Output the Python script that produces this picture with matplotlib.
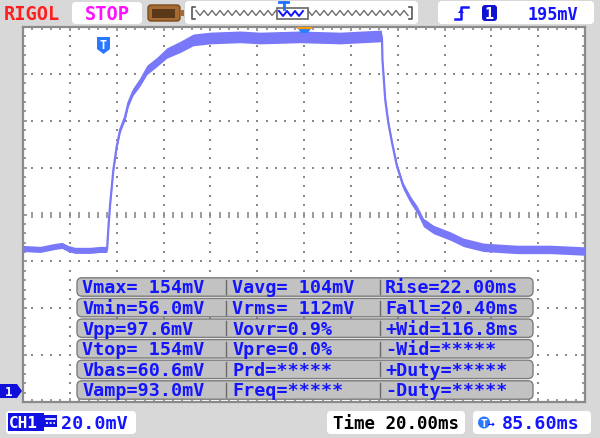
import numpy as np
import matplotlib.pyplot as plt
from matplotlib.patches import FancyBboxPatch, Rectangle, Polygon, Circle

# --- captured waveform (time relative to trigger in ms, voltage in mV) ---
t_ms = [-34.4, -27.1, -20.7, -17.7, -15.2, -12.2, -5.8, -1.5, 1.1,
        1.5, 2.1, 2.8, 4.2, 5.6, 7.1, 9.2, 10.6, 12.6, 15.6, 18.5, 22.8, 27.0,
        32.7, 38.3, 45.5, 58.3,
        66.9, 84.0, 101.1, 118.6,
        118.9, 119.1, 120.3, 121.6, 123.2, 125.3, 128.0, 131.0, 133.9, 136.6,
        140.9, 148.1, 153.7, 162.2, 176.6, 190.9, 205.6]
v_mv = [60.8, 60.4, 61.7, 62.1, 60.8, 60.0, 60.0, 60.4, 60.4,
        60.4, 70.2, 79.6, 94.5, 104.2, 111.5, 117.0, 122.9, 127.7, 131.9, 137.0,
        140.4, 144.2, 146.8, 149.8, 150.6, 151.1,
        150.6, 151.1, 150.6, 151.5,
        150.6, 141.3, 124.2, 114.5, 105.9, 95.9, 87.4, 81.7, 77.4, 71.9,
        68.9, 66.1, 63.4, 61.3, 60.4, 60.4, 59.7]
# noise envelope half width (mV)
noise_mv = [1.3, 1.3, 1.3, 1.3, 1.3, 1.3, 1.3, 1.3, 1.3,
            1.0, 1.0, 1.0, 1.0, 1.0, 1.2, 1.4, 1.5, 1.6, 1.8, 2.0, 2.0, 2.2,
            2.4, 2.5, 2.5, 2.5,
            2.5, 2.5, 2.5, 2.5,
            1.0, 1.0, 1.0, 1.0, 1.0, 1.2, 1.4, 1.5, 1.6, 1.8,
            1.8, 1.8, 1.8, 1.8, 1.8, 1.8, 1.8]

# --- scope settings ---
volts_div = 20.0      # mV/div
time_div = 20.0       # ms/div
trig_offset = 85.6    # ms
ground_div = 0.235    # ch1 ground marker above screen bottom (div)
trig_level = '195mV'

meas_col1 = ['Vmax= 154mV', 'Vmin=56.0mV', 'Vpp=97.6mV',
             'Vtop= 154mV', 'Vbas=60.6mV', 'Vamp=93.0mV']
meas_col2 = ['Vavg= 104mV', 'Vrms= 112mV', 'Vovr=0.9%',
             'Vpre=0.0%', 'Prd=*****', 'Freq=*****']
meas_col3 = ['Rise=22.00ms', 'Fall=20.40ms', '+Wid=116.8ms',
             '-Wid=*****', '+Duty=*****', '-Duty=*****']

plt.rcParams.update({
    'font.family': 'DejaVu Sans Mono',
    'font.weight': 'bold',
})

BG = '#d8d8d8'
BLUE = '#1414ff'
TRACE = '#7878f8'
GRID = '#8a8a8a'
MONO = dict(family='DejaVu Sans Mono', weight='bold')

fig = plt.figure(figsize=(6, 4.39), dpi=100, facecolor=BG)

# screen area (pixel box 23..585 x 28..403)
ax = fig.add_axes([23 / 600, (439 - 403) / 439, 562 / 600, 375 / 439])
ax.set_facecolor('white')
x0 = trig_offset - 6 * time_div
x1 = trig_offset + 6 * time_div
y0 = -ground_div * volts_div
y1 = y0 + 8 * volts_div
ax.set_xlim(x0, x1)
ax.set_ylim(y0, y1)

# border ticks
ax.set_xticks(np.arange(x0, x1 + 0.01, time_div))
ax.set_yticks(np.arange(y0, y1 + 0.01, volts_div))
ax.set_xticks(np.arange(x0, x1 + 0.01, time_div / 5), minor=True)
ax.set_yticks(np.arange(y0, y1 + 0.01, volts_div / 5), minor=True)
ax.tick_params(which='both', direction='in', color=GRID, labelbottom=False,
               labelleft=False, top=True, right=True, width=1.2)
ax.tick_params(which='major', length=3)
ax.tick_params(which='minor', length=2.5)
for s in ax.spines.values():
    s.set_color(GRID)
    s.set_linewidth(1.6)

# dotted graticule
ydots = np.arange(y0, y1 + 0.01, volts_div / 5)
xdots = np.arange(x0, x1 + 0.01, time_div / 5)
for k in range(1, 12):
    xk = x0 + k * time_div
    ax.plot(np.full_like(ydots, xk), ydots, ls='none', marker='s', ms=1.5,
            mew=0, color=GRID, zorder=1)
for j in range(1, 8):
    yj = y0 + j * volts_div
    if j == 4:
        ax.plot(xdots, np.full_like(xdots, yj), ls='none', marker='|', ms=5,
                mew=1.2, color=GRID, zorder=1)
    else:
        ax.plot(xdots, np.full_like(xdots, yj), ls='none', marker='s', ms=1.5,
                mew=0, color=GRID, zorder=1)

# waveform
t = np.array(t_ms)
v = np.array(v_mv)
n = np.array(noise_mv)
ax.fill_between(t, v - n, v + n, color=TRACE, lw=0, zorder=3)
ax.plot(t, v, color=TRACE, lw=1.6, zorder=4)

# overlay in pixel coordinates for the scope chrome
ov = fig.add_axes([0, 0, 1, 1], zorder=5)
ov.set_xlim(0, 600)
ov.set_ylim(439, 0)
ov.axis('off')
ov.patch.set_alpha(0)


def box(x, y, w, h, fc='white', ec='none', r=4, lw=1.0):
    ov.add_patch(FancyBboxPatch((x, y), w, h, boxstyle=f'round,pad=0,rounding_size={r}',
                                fc=fc, ec=ec, lw=lw))


# trigger position marker inside the screen
ov.add_patch(Polygon([(97, 38), (110, 38), (110, 50), (103.5, 55), (97, 50)],
                     closed=True, fc='#2a78ff', ec='none'))
ov.text(103.5, 45.5, 'T', color='white', fontsize=8.5, ha='center', va='center', **MONO)
# horizontal centre marker
ov.add_patch(Polygon([(297, 28), (312, 28), (308, 34), (301, 34)],
                     closed=True, fc='#2a80ff', ec='none'))
ov.plot([298, 311], [28.5, 28.5], color='#ff9a00', lw=1.5)

# channel 1 ground marker
ov.add_patch(Polygon([(0, 385), (17, 385), (22, 392), (17, 399), (0, 399)],
                     closed=True, fc='#1010d8', ec='none'))
ov.text(9, 392.5, '1', color='white', fontsize=9, ha='center', va='center', **MONO)

# measurement table
rows_y = [288, 308.6, 329.2, 349.8, 370.4, 391]
for i, yc in enumerate(rows_y):
    box(77, yc - 9.2, 456, 18.4, fc='#c2c2c2', ec='#7c7c7c', r=5, lw=1.0)
    for xs in (226, 380):
        ov.plot([xs, xs], [yc - 7, yc + 7], color='#6a6a6a', lw=1.0)
    for xt, s in ((82, meas_col1[i]), (232, meas_col2[i]), (385, meas_col3[i])):
        ov.text(xt, yc + 0.5, s, color=BLUE, fontsize=13.2, ha='left', va='center', **MONO)

# top bar
ov.text(4, 14.5, 'RIGOL', color='#ff1e1e', fontsize=13.4, ha='left', va='center', **MONO)
box(72, 3, 70, 22, r=4)
ov.text(107, 14.5, 'STOP', color='#ff10ff', fontsize=13.4, ha='center', va='center', **MONO)

# battery icon
box(148, 6, 32, 16, fc='#a66b34', ec='#7a4a1e', r=3)
ov.add_patch(Rectangle((152, 9.5), 23, 9, fc='#5a3818', ec='none'))
ov.add_patch(Rectangle((180, 11), 4, 6, fc='#a66b34', ec='none'))

# memory bar
box(185, 2, 233, 23, r=4)
ov.plot([195, 192, 192, 195], [8, 8, 20, 20], color='#555555', lw=1.2)
ov.plot([409, 412, 412, 409], [8, 8, 20, 20], color='#555555', lw=1.2)
wx = np.arange(196, 409, 4.0)
wy = 14 + np.where(np.arange(len(wx)) % 2 == 0, -2.5, 2.5)
ov.plot(wx, wy, color='#6e6e6e', lw=1.0)
ov.add_patch(Rectangle((277, 9), 31, 11, fc='white', ec='#666666', lw=1.2, zorder=3))
mx = np.arange(279, 307, 4.0)
my = 14.5 + np.where(np.arange(len(mx)) % 2 == 0, -2.5, 2.5)
ov.plot(mx, my, color='#1010ff', lw=1.4, zorder=4)
# trigger "T" marker above the memory window
ov.plot([279, 288], [3, 3], color='#2070ff', lw=2.0, zorder=4)
ov.plot([283.5, 283.5], [3, 10], color='#2070ff', lw=2.0, zorder=4)

# trigger box
box(438, 2, 156, 23, r=4)
ov.plot([455, 461, 461, 468], [20, 20, 8, 8], color=BLUE, lw=1.8)
ov.add_patch(Polygon([(458, 14), (464, 14), (461, 10)], closed=True, fc=BLUE, ec='none'))
box(482, 6, 15, 16, fc='#1010d0', r=3)
ov.text(489.5, 14.5, '1', color='white', fontsize=11, ha='center', va='center', **MONO)
ov.text(578, 14.5, trig_level, color=BLUE, fontsize=12.2, ha='right', va='center', **MONO)

# bottom bar
box(6, 412, 130, 23, r=4)
ov.add_patch(Rectangle((8, 414.5), 36, 18, fc='#1010e0', ec='none'))
ov.text(9, 424, 'CH1', color='white', fontsize=11.5, ha='left', va='center', **MONO)
ov.add_patch(Rectangle((44, 416.5), 13, 12, fc='#1010e0', ec='none'))
ov.plot([46, 55], [420, 420], color='white', lw=1.2)
ov.plot([46, 55], [424, 424], color='white', lw=1.2, ls=(0, (1.2, 1)))
ov.text(61, 424, f'{volts_div:.1f}mV', color=BLUE, fontsize=13.2, ha='left', va='center', **MONO)

box(327, 412, 138, 23, r=4)
ov.text(333, 424, f'Time {time_div:.2f}ms', color='black', fontsize=12.6, ha='left',
        va='center', **MONO)

box(473, 412, 118, 23, r=4)
ov.add_patch(Circle((484, 423.5), 6, fc='#2a78ff', ec='none'))
ov.text(484, 424, 'T', color='white', fontsize=8, ha='center', va='center', **MONO)
ov.text(491.5, 424, '\u2192', color=BLUE, fontsize=8, ha='center', va='center', **MONO)
ov.text(580, 424, f'{trig_offset:.2f}ms', color=BLUE, fontsize=13.2, ha='right',
        va='center', **MONO)

fig.savefig('out.png', dpi=100, facecolor=BG)
